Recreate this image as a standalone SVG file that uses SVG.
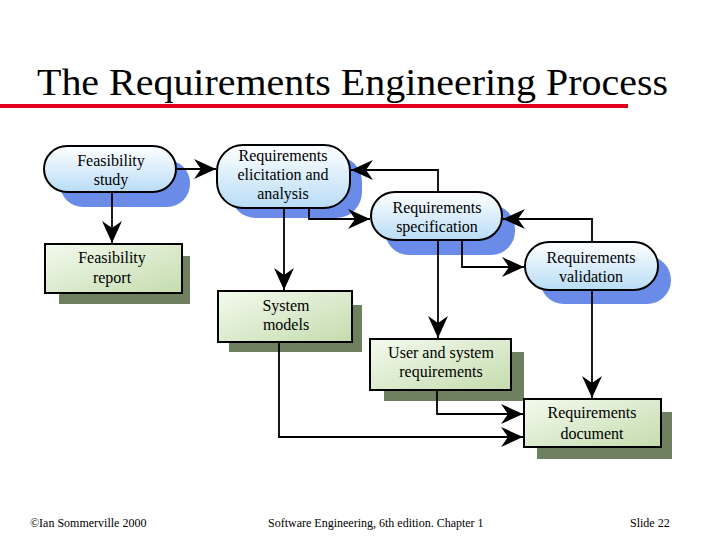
<svg xmlns="http://www.w3.org/2000/svg" width="717" height="538" viewBox="0 0 717 538">
<style>
.t{font-family:"Liberation Serif","Times New Roman",serif;fill:#000}
.n{font-size:16px;text-anchor:middle}
.pill{fill:url(#gb);stroke:#000;stroke-width:2}
.ps{fill:#6a8ce8}
.box{fill:url(#gg);stroke:#000;stroke-width:2}
.bs{fill:#6e8060}
.c{fill:none;stroke:#000;stroke-width:1.8}
</style>
<defs>
<linearGradient id="gb" x1="0" y1="0" x2="0" y2="1"><stop offset="0" stop-color="#ffffff"/><stop offset="1" stop-color="#b8dcf6"/></linearGradient>
<linearGradient id="gg" x1="0" y1="0" x2="1" y2="1"><stop offset="0" stop-color="#f4faee"/><stop offset="1" stop-color="#c4dcae"/></linearGradient>
<marker id="a" markerWidth="24" markerHeight="20" refX="22" refY="10" orient="auto" markerUnits="userSpaceOnUse"><path d="M0,0 L22,10 L0,20 L7,10 z" fill="#000"/></marker>
</defs>
<rect width="717" height="538" fill="#fff"/>
<text class="t" x="37" y="95" font-size="38" textLength="631" lengthAdjust="spacingAndGlyphs">The Requirements Engineering Process</text>
<rect x="0" y="104" width="628" height="4" fill="#e0001b"/>

<g id="fs"><rect class="ps" x="60" y="160" width="130" height="47" rx="23"/><rect class="pill" x="44" y="146" width="132" height="46" rx="23"/><text class="t n" x="111" y="166">Feasibility</text><text class="t n" x="111" y="185">study</text></g>
<g id="re"><rect class="ps" x="230" y="156" width="132" height="62" rx="26"/><rect class="pill" x="217" y="145" width="133" height="63" rx="26"/><text class="t n" x="283" y="161">Requirements</text><text class="t n" x="283" y="180">elicitation and</text><text class="t n" x="283" y="199">analysis</text></g>
<g id="rs"><rect class="ps" x="385" y="205" width="130" height="50" rx="24"/><rect class="pill" x="371" y="192" width="131" height="48" rx="24"/><text class="t n" x="437" y="213">Requirements</text><text class="t n" x="437" y="232">specification</text></g>
<g id="rv"><rect class="ps" x="540" y="256" width="131" height="48" rx="24"/><rect class="pill" x="525" y="242" width="133" height="48" rx="24"/><text class="t n" x="591" y="263">Requirements</text><text class="t n" x="591" y="282">validation</text></g>

<g id="fr"><rect class="bs" x="59" y="256" width="131" height="48"/><rect class="box" x="45" y="244" width="137" height="49"/><text class="t n" x="112" y="263">Feasibility</text><text class="t n" x="112" y="283">report</text></g>
<g id="sm"><rect class="bs" x="229" y="305" width="133" height="47"/><rect class="box" x="218" y="291" width="134" height="51"/><text class="t n" x="286" y="311">System</text><text class="t n" x="286" y="330">models</text></g>
<g id="ur"><rect class="bs" x="384" y="352" width="140" height="49"/><rect class="box" x="370" y="339" width="141" height="51"/><text class="t n" x="441" y="358">User and system</text><text class="t n" x="441" y="377">requirements</text></g>
<g id="rd"><rect class="bs" x="537" y="412" width="135" height="47"/><rect class="box" x="524" y="399" width="137" height="48"/><text class="t n" x="592" y="418">Requirements</text><text class="t n" x="592" y="439">document</text></g>

<g id="connectors">
<path class="c" d="M176,169 H216" marker-end="url(#a)"/>
<path class="c" d="M112,192 V243" marker-end="url(#a)"/>
<path class="c" d="M284,208 V290" marker-end="url(#a)"/>
<path class="c" d="M309,208 V219 H370" marker-end="url(#a)"/>
<path class="c" d="M438,192 V170 H351" marker-end="url(#a)"/>
<path class="c" d="M592,242 V219 H503" marker-end="url(#a)"/>
<path class="c" d="M438,240 V338" marker-end="url(#a)"/>
<path class="c" d="M462,240 V267 H524" marker-end="url(#a)"/>
<path class="c" d="M592,290 V398" marker-end="url(#a)"/>
<path class="c" d="M437,390 V414 H523" marker-end="url(#a)"/>
<path class="c" d="M279,342 V437 H523" marker-end="url(#a)"/>
</g>

<text class="t" x="30" y="527" font-size="12">©Ian Sommerville 2000</text>
<text class="t" x="268" y="527" font-size="12">Software Engineering, 6th edition. Chapter 1</text>
<text class="t" x="630" y="527" font-size="12">Slide  22</text>
</svg>
